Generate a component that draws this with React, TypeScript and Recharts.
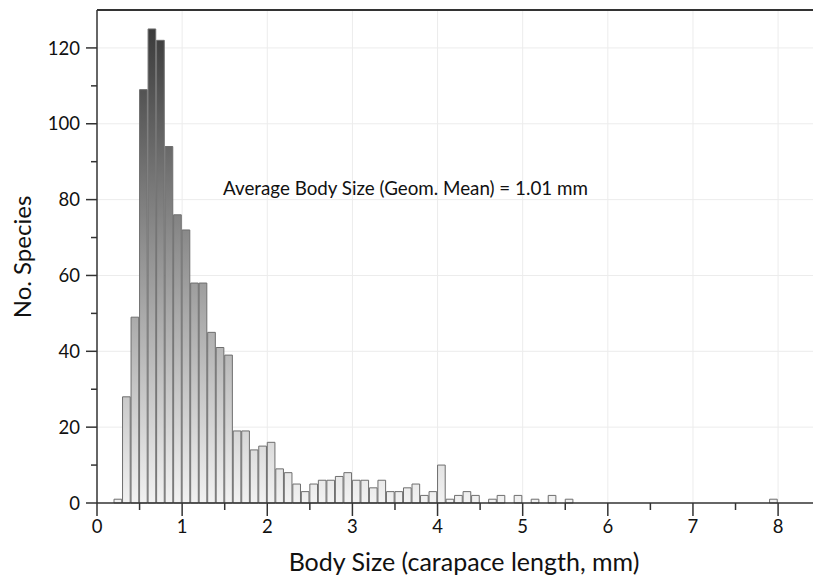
import { ComposedChart, Bar, XAxis, YAxis, CartesianGrid, ReferenceLine } from 'recharts'

// histogram of carapace length, 0.1 mm bins starting at 0.2 mm
const BIN_START = 0.2
const BIN_WIDTH = 0.1
const COUNTS = [
  1, 28, 49, 109, 125, 122, 94, 76, 72, 58,
  58, 45, 41, 39, 19, 19, 14, 15, 16, 9,
  8, 5, 3, 5, 6, 6, 7, 8, 6, 6,
  4, 6, 3, 3, 4, 5, 2, 3, 10, 1,
  2, 3, 2, 0, 1, 2, 0, 2, 0, 1,
  0, 2, 0, 1, 0, 0, 0, 0, 0, 0,
  0, 0, 0, 0, 0, 0, 0, 0, 0, 0,
  0, 0, 0, 0, 0, 0, 0, 1,
]

const X_TICKS = [0, 0.5, 1, 1.5, 2, 2.5, 3, 3.5, 4, 4.5, 5, 5.5, 6, 6.5, 7, 7.5, 8]
const Y_TICKS = [0, 10, 20, 30, 40, 50, 60, 70, 80, 90, 100, 110, 120]
const X_GRID = [1, 2, 3, 4, 5, 6, 7, 8]
const Y_GRID = [20, 40, 60, 80, 100, 120]

const data = COUNTS.map((count, i) => ({
  x: Math.round((BIN_START + BIN_WIDTH * (i + 0.5)) * 1000) / 1000,
  count,
}))

const W = 813
const H = 575
const LEFT = 97
const X_MAX = 8.41
const Y_MAX = 130
const BAR_PX = (BIN_WIDTH * (W - LEFT)) / X_MAX

const FONT = 'Lato, "Noto Sans", sans-serif'
const INK = '#333'

function YTick(props: any) {
  const { x, y, payload } = props
  const major = payload.value % 20 === 0
  return (
    <g>
      <line x1={x} x2={x - (major ? 11 : 6)} y1={y} y2={y} stroke={INK} strokeWidth={1.5} />
      {major && (
        <text x={x - 17} y={y} dy="0.36em" textAnchor="end" fontSize={18.5} fill="#111" fontFamily={FONT}>
          {payload.value}
        </text>
      )}
    </g>
  )
}

function XTick(props: any) {
  const { x, y, payload } = props
  const major = payload.value % 1 === 0
  return (
    <g>
      <line x1={x} x2={x} y1={y} y2={y + (major ? 13 : 7)} stroke={INK} strokeWidth={1.5} />
      {major && (
        <text x={x} y={y + 30} textAnchor="middle" fontSize={18.5} fill="#111" fontFamily={FONT}>
          {payload.value}
        </text>
      )}
    </g>
  )
}

export default function App() {
  return (
    <div style={{ position: 'absolute', left: 0, top: 0, background: '#fff' }}>
      <ComposedChart width={W} height={H} data={data} margin={{ top: 10, right: 0, bottom: 0, left: 0 }}>
        <defs>
          <linearGradient id="barFill" gradientUnits="userSpaceOnUse" x1="0" y1="10" x2="0" y2="503">
            <stop offset="0%" stopColor="#343434" />
            <stop offset="100%" stopColor="#f2f2f2" />
          </linearGradient>
        </defs>
        <CartesianGrid stroke="#ececec" horizontalValues={Y_GRID} verticalValues={X_GRID} />
        <XAxis
          type="number"
          dataKey="x"
          domain={[0, X_MAX]}
          ticks={X_TICKS}
          interval={0}
          height={72}
          tickSize={0}
          tickMargin={0}
          tickLine={false}
          tick={<XTick />}
          axisLine={{ stroke: INK, strokeWidth: 1.5 }}
        />
        <YAxis
          type="number"
          domain={[0, Y_MAX]}
          ticks={Y_TICKS}
          interval={0}
          width={LEFT}
          tickSize={0}
          tickMargin={0}
          tickLine={false}
          tick={<YTick />}
          axisLine={{ stroke: INK, strokeWidth: 1.5 }}
        />
        <ReferenceLine y={Y_MAX} stroke={INK} strokeWidth={2} />
        <Bar
          dataKey="count"
          fill="url(#barFill)"
          stroke="#6e6e6e"
          strokeWidth={1}
          barSize={BAR_PX}
          isAnimationActive={false}
        />
        <text x={223} y={195} fontSize={18.8} fill="#111" fontFamily={FONT}>
          Average Body Size (Geom. Mean) = 1.01 mm
        </text>
        <text x={464} y={571} textAnchor="middle" fontSize={25} fill="#111" fontFamily={FONT}>
          Body Size (carapace length, mm)
        </text>
        <text
          x={31}
          y={257}
          transform="rotate(-90 31 257)"
          textAnchor="middle"
          fontSize={24}
          fill="#111"
          fontFamily={FONT}
        >
          No. Species
        </text>
      </ComposedChart>
    </div>
  )
}
